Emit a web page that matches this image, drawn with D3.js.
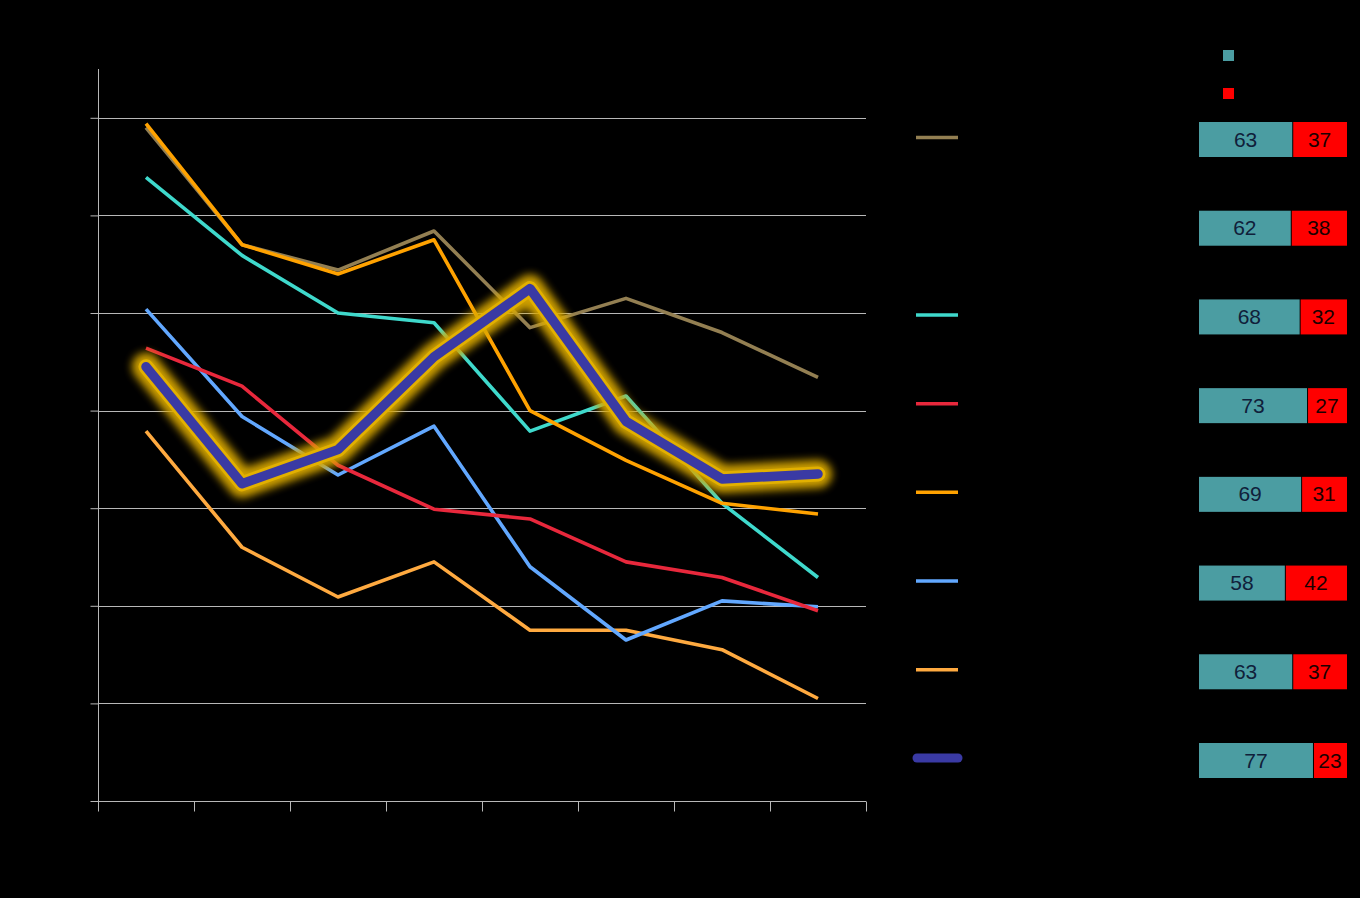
<!DOCTYPE html>
<html>
<head>
<meta charset="utf-8">
<script src="https://cdn.jsdelivr.net/npm/d3@7"></script>
<style>
  html, body { margin: 0; padding: 0; background: #000; }
  svg { display: block; }
</style>
</head>
<body>
<svg id="chart" width="1360" height="898"></svg>
<script>
// ---- data ----
const categories = ["1", "2", "3", "4", "5", "6", "7", "8"];
const seriesBrown      = [69.0, 57.0, 54.4, 58.4, 48.5, 51.5, 48.0, 43.4];
const seriesOrange     = [69.4, 57.0, 54.0, 57.5, 40.0, 34.9, 30.5, 29.4];
const seriesCyan       = [63.9, 55.9, 50.0, 49.0, 37.9, 41.5, 30.5, 22.9];
const seriesRed        = [46.4, 42.5, 34.4, 29.9, 28.9, 24.5, 22.9, 19.5];
const seriesLightBlue  = [50.4, 39.4, 33.4, 38.4, 24.0, 16.5, 20.5, 19.9];
const seriesLightOrange= [37.9, 26.0, 20.9, 24.5, 17.5, 17.5, 15.5, 10.5];
const seriesHighlight  = [44.5, 32.5, 36.0, 45.5, 52.5, 38.9, 33.0, 33.5];
const yTicks = [0, 10, 20, 30, 40, 50, 60, 70];
const shareA = [63, 62, 68, 73, 69, 58, 63, 77];
const shareB = [37, 38, 32, 27, 31, 42, 37, 23];

const svg = d3.select("#chart");
svg.append("rect").attr("width", 1360).attr("height", 898).attr("fill", "#000");

const x = d3.scaleBand().domain(categories).range([98, 866]).padding(0);
const y = d3.scaleLinear().domain([0, 75]).range([801, 69]);

// gridlines
svg.append("g").selectAll("line").data(yTicks.filter(d => d > 0)).join("line")
  .attr("x1", 98).attr("x2", 866)
  .attr("y1", d => Math.round(y(d)) + 0.5).attr("y2", d => Math.round(y(d)) + 0.5)
  .attr("stroke", "#b8b8b8").attr("stroke-width", 1);

// y axis
const yAxis = d3.axisLeft(y).tickValues(yTicks).tickSize(8).tickFormat("");
const gy = svg.append("g").attr("transform", "translate(98.5,0)").call(yAxis);
gy.select(".domain").attr("stroke", "#b8b8b8").attr("d", `M0,${y(75)}V${y(0) + 6}`);
gy.selectAll(".tick line").attr("stroke", "#b8b8b8");

// x axis
const xAxis = d3.axisBottom(x).tickSize(0).tickFormat("");
const gx = svg.append("g").attr("transform", `translate(0,${Math.round(y(0)) + 0.5})`).call(xAxis);
gx.select(".domain").attr("stroke", "#b8b8b8").attr("d", "M92,0H866");
gx.selectAll(".tick").remove();
const bounds = categories.map(c => x(c)).concat([x(categories[categories.length - 1]) + x.bandwidth()]);
gx.selectAll("line.bt").data(bounds).join("line").attr("class", "bt")
  .attr("x1", d => Math.round(d) + 0.5).attr("x2", d => Math.round(d) + 0.5)
  .attr("y1", 0).attr("y2", 10).attr("stroke", "#b8b8b8");

const cx = c => x(c) + x.bandwidth() / 2;
const line = d3.line().x((d, i) => cx(categories[i])).y(d => y(d));

const plain = [
  { vals: seriesBrown, color: "#937f52" },
  { vals: seriesOrange, color: "#ffa200" },
  { vals: seriesCyan, color: "#3fd9cc" },
  { vals: seriesRed, color: "#e8283c" },
  { vals: seriesLightBlue, color: "#62a8ff" },
  { vals: seriesLightOrange, color: "#ffaa40" }
];

// draw order: light orange, light blue, red, cyan, orange, brown
const order = [5, 4, 3, 2, 0, 1];
order.forEach(i => {
  svg.append("path").datum(plain[i].vals).attr("d", line)
    .attr("fill", "none").attr("stroke", plain[i].color)
    .attr("stroke-width", 3.6).attr("stroke-linejoin", "round");
});

// glow filter
const defs = svg.append("defs");
const f = defs.append("filter").attr("id", "glow").attr("x", "-10%").attr("y", "-30%").attr("width", "120%").attr("height", "160%");
f.append("feGaussianBlur").attr("stdDeviation", 4);

svg.append("path").datum(seriesHighlight).attr("d", line)
  .attr("fill", "none").attr("stroke", "#d9a800").attr("stroke-width", 28)
  .attr("stroke-linejoin", "round").attr("stroke-linecap", "round")
  .attr("filter", "url(#glow)").attr("opacity", 0.95);
svg.append("path").datum(seriesHighlight).attr("d", line)
  .attr("fill", "none").attr("stroke", "#e2b000").attr("stroke-width", 15)
  .attr("stroke-linejoin", "round").attr("stroke-linecap", "round");
svg.append("path").datum(seriesHighlight).attr("d", line)
  .attr("fill", "none").attr("stroke", "#3a3aa4").attr("stroke-width", 9.5)
  .attr("stroke-linejoin", "round").attr("stroke-linecap", "round");

// legend
const rowY = d3.scaleLinear().domain([0, 7]).range([139, 760]);
const legendItems = [
  { row: 0, color: plain[0].color },
  { row: 2, color: plain[2].color },
  { row: 3, color: plain[3].color },
  { row: 4, color: plain[1].color },
  { row: 5, color: plain[4].color },
  { row: 6, color: plain[5].color }
];
svg.append("g").selectAll("line").data(legendItems).join("line")
  .attr("x1", 916).attr("x2", 958)
  .attr("y1", d => rowY(d.row) - 1.5).attr("y2", d => rowY(d.row) - 1.5)
  .attr("stroke", d => d.color).attr("stroke-width", 3.5);
svg.append("line").attr("x1", 917).attr("x2", 958)
  .attr("y1", rowY(7) - 2).attr("y2", rowY(7) - 2)
  .attr("stroke", "#3a3aa4").attr("stroke-width", 9).attr("stroke-linecap", "round");

// share bars
const xs = d3.scaleLinear().domain([0, 100]).range([1199, 1347]);
const gb = svg.append("g");
shareA.forEach((a, i) => {
  const cy = rowY(i);
  gb.append("rect").attr("x", xs(0)).attr("y", cy - 17).attr("width", xs(a) - xs(0)).attr("height", 35).attr("fill", "#4b9da2");
  gb.append("rect").attr("x", xs(a) + 1).attr("y", cy - 17).attr("width", xs(100) - xs(a) - 1).attr("height", 35).attr("fill", "#ff0000");
  gb.append("text").attr("x", (xs(0) + xs(a)) / 2).attr("y", cy + 7.5)
    .attr("text-anchor", "middle").attr("font-family", "Liberation Sans, Arial, sans-serif")
    .attr("font-size", 21).attr("fill", "#10203a").text(a);
  gb.append("text").attr("x", (xs(a) + xs(100)) / 2).attr("y", cy + 7.5)
    .attr("text-anchor", "middle").attr("font-family", "Liberation Sans, Arial, sans-serif")
    .attr("font-size", 21).attr("fill", "#1a0000").text(shareB[i]);
});

// top legend squares
svg.append("rect").attr("x", 1223).attr("y", 50).attr("width", 11).attr("height", 11).attr("fill", "#4b9da2");
svg.append("rect").attr("x", 1223).attr("y", 88).attr("width", 11).attr("height", 11).attr("fill", "#ff0000");
</script>
</body>
</html>
